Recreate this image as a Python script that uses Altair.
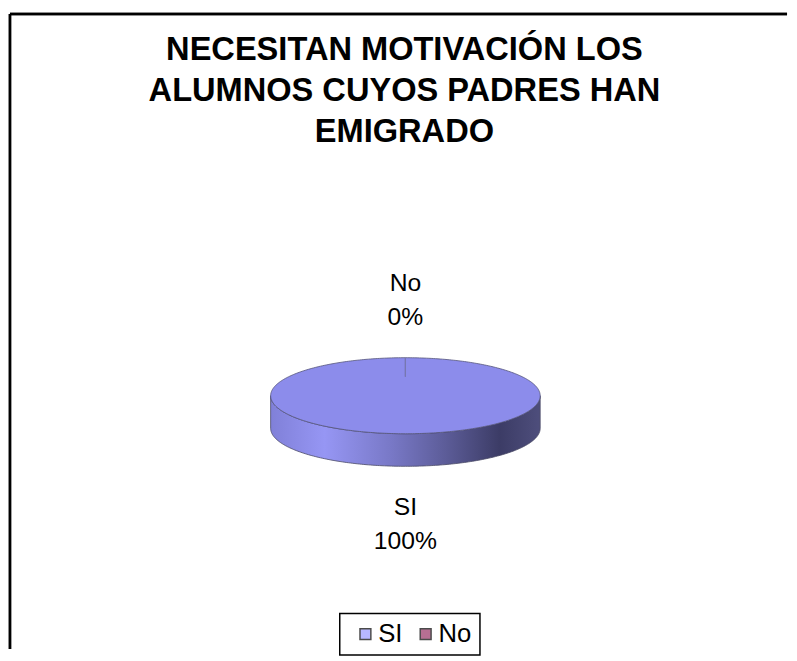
import altair as alt
import pandas as pd

# ---- data ----
categories = ["SI", "No"]
values = [100, 0]                       # percent of answers
legend_colors = ["#9999FF", "#993366"]
title_lines = ["NECESITAN MOTIVACIÓN LOS", "ALUMNOS CUYOS PADRES HAN", "EMIGRADO"]

# ---- layout (view pixels) ----
W, H = 781, 645
CX, CY = 400.5, 388.5      # pie centre
RX, RY, DEPTH = 136.5, 38.5, 33.0
GAP = 58.5                 # distance from rim to label-block centre
LINE_H = 35
FONT = "Liberation Sans"
FACE = "#8c8ceb"

slices = pd.DataFrame({"category": categories, "value": values,
                       "order": list(range(len(categories)))})

xq = lambda f: alt.X(f"{f}:Q", scale=alt.Scale(domain=[0, W], nice=False, zero=False), axis=None)
yq = lambda f: alt.Y(f"{f}:Q", scale=alt.Scale(domain=[0, H], nice=False, zero=False, reverse=True), axis=None)

# slice angles (0 = 12 o'clock, clockwise)
sl = alt.Chart(slices).transform_joinaggregate(
    total="sum(value)"
).transform_window(
    cum="sum(value)", sort=[alt.SortField("order")], frame=[None, 0]
).transform_calculate(
    start="(datum.cum - datum.value) / datum.total * 2 * PI",
    end="datum.cum / datum.total * 2 * PI",
).transform_calculate(
    mid="(datum.start + datum.end) / 2"
)

# hidden squares (covered by the pie) that produce the legend
legend_src = sl.transform_calculate(cx=f"{CX}", cy=f"{CY}").mark_square(size=4).encode(
    x=xq("cx"),
    y=yq("cy"),
    color=alt.Color("category:N",
                    scale=alt.Scale(domain=categories, range=legend_colors),
                    legend=alt.Legend(orient="none", legendX=334, legendY=609,
                                      direction="horizontal", title=None,
                                      symbolType="square", symbolSize=121,
                                      symbolStrokeColor="black", symbolStrokeWidth=1.5,
                                      symbolOffset=5,
                                      labelFont=FONT, labelFontSize=26, labelColor="black",
                                      labelOffset=0, columnPadding=5, padding=8,
                                      strokeColor="black")),
)

rim = alt.Chart(alt.sequence(0, 181, as_="i")).transform_calculate(
    a="datum.i / 180 * PI"
).transform_calculate(
    x=f"{CX} + {RX} * cos(datum.a)",
    s_top=f"{CY} + {RY} * sin(datum.a)",
    s_bot=f"{CY} + {RY} * sin(datum.a) + {DEPTH}",
    f_top=f"{CY} - {RY} * sin(datum.a)",
    f_bot=f"{CY} + {RY} * sin(datum.a)",
)

side_grad = alt.Gradient(
    gradient="linear", x1=0, x2=1, y1=0, y2=0,
    stops=[alt.GradientStop(color="#8080d8", offset=0),
           alt.GradientStop(color="#9696f4", offset=0.2),
           alt.GradientStop(color="#7878c6", offset=0.45),
           alt.GradientStop(color="#5c5c98", offset=0.65),
           alt.GradientStop(color="#3c3c66", offset=0.85),
           alt.GradientStop(color="#4e4e7c", offset=1)],
)

side = rim.mark_area(color=side_grad, stroke="#4a4a66", strokeWidth=0.8).encode(
    x=xq("x"), y=yq("s_top"), y2="s_bot:Q"
)
face = rim.mark_area(color=FACE, stroke="#55557a", strokeWidth=0.8).encode(
    x=xq("x"), y=yq("f_top"), y2="f_bot:Q"
)

# boundary of the zero-width slice, drawn from the rim towards the centre
sep = sl.transform_calculate(
    x1=f"{CX} + {RX} * sin(datum.start)",
    y1=f"{CY} - {RY} * cos(datum.start)",
    x2=f"{CX} + 0.5 * {RX} * sin(datum.start)",
    y2=f"{CY} - 0.5 * {RY} * cos(datum.start)",
).mark_rule(color="#7777b0", strokeWidth=1.2).encode(
    x=xq("x1"), y=yq("y1"), x2="x2:Q", y2="y2:Q"
)

# two-line labels; first line placed half a line above the block centre
labels = sl.transform_calculate(
    lx=f"{CX} + ({RX} + {GAP}) * sin(datum.mid)",
    ly=f"{CY} - ({RY} + {GAP}) * cos(datum.mid) + (cos(datum.mid) < 0 ? {DEPTH} : 0) - {LINE_H / 2}",
    txt="datum.category + '\\n' + format(datum.value / datum.total, '.0%')",
).mark_text(font=FONT, fontSize=25, lineHeight=LINE_H, lineBreak="\n",
            baseline="middle", align="center", color="black").encode(
    x=xq("lx"), y=yq("ly"), text="txt:N"
)

# chart frame (left and top edges visible in the reference)
frame_left = alt.Chart(slices).mark_rule(color="black", strokeWidth=2.5).encode(
    x=alt.value(0), y=alt.value(2), y2=alt.value(H)
)
frame_top = alt.Chart(slices).mark_rule(color="black", strokeWidth=2.5).encode(
    x=alt.value(0), x2=alt.value(W + 6), y=alt.value(2)
)

chart = alt.layer(
    legend_src, side, face, sep, labels, frame_left, frame_top
).properties(
    width=W, height=H,
    padding=0,
    title=alt.TitleParams(text=title_lines, font=FONT, fontSize=33, fontWeight="bold",
                          lineHeight=42, anchor="middle", color="black",
                          baseline="top", offset=-139, dx=9),
).configure_view(stroke="transparent").configure_legend(strokeWidth=1.5)

chart.save("out.html", embed_options={"renderer": "svg", "actions": False})
